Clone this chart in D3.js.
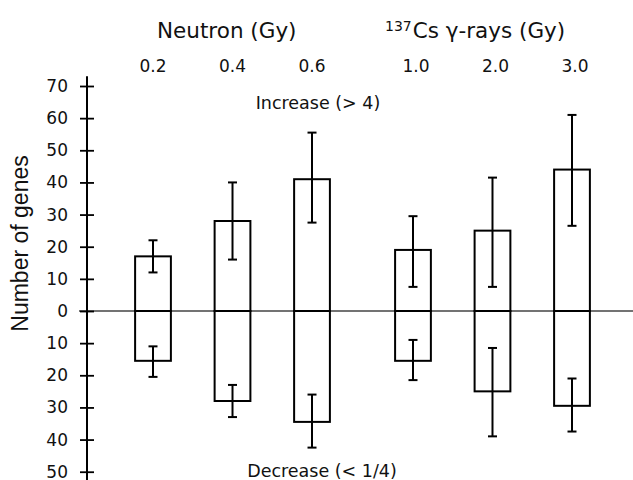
<!DOCTYPE html>
<html>
<head>
<meta charset="utf-8">
<script src="https://cdn.jsdelivr.net/npm/d3@7"></script>
<style>
  html, body { margin: 0; padding: 0; background: #fff; }
  svg { display: block; }
  text { font-family: "DejaVu Sans", sans-serif; fill: #111; }
</style>
</head>
<body>
<svg id="chart" width="633" height="480"></svg>
<script>
// ---- data ----
const doses = ["0.2", "0.4", "0.6", "1.0", "2.0", "3.0"];
const doseGroup = [0, 0, 0, 1, 1, 1];
const groupTitles = ["Neutron (Gy)", "Cs γ-rays (Gy)"];
const increaseMean = [17, 28, 41, 19, 25, 44];
const increaseLow  = [12, 16, 27.5, 7.5, 7.5, 26.5];
const increaseHigh = [22, 40, 55.5, 29.5, 41.5, 61];
const decreaseMean = [15.5, 28, 34.5, 15.5, 25, 29.5];
const decreaseLow  = [11, 23, 26, 9, 11.5, 21];
const decreaseHigh = [20.5, 33, 42.5, 21.5, 39, 37.5];
const yTicks = [70, 60, 50, 40, 30, 20, 10, 0, -10, -20, -30, -40, -50];

// ---- layout ----
const svg = d3.select("#chart");
const groupGap = 0.27;
const slot = doses.map((d, i) => i + doseGroup[i] * groupGap);
const x = d3.scaleLinear().domain([0, d3.max(slot)]).range([153, 572]);
const step = x(1) - x(0);
const barW = step * 0.45;
const y = d3.scaleLinear().domain([0, 70]).range([311, 86]);
const axisX = 87;

// zero line
svg.append("line")
  .attr("x1", 79).attr("x2", 633)
  .attr("y1", y(0)).attr("y2", y(0))
  .attr("stroke", "#444").attr("stroke-width", 1.6);

// y axis
const axis = d3.axisLeft(y).tickValues(yTicks).tickSize(7).tickPadding(12)
  .tickFormat(d => Math.abs(d));
const ag = svg.append("g").attr("transform", `translate(${axisX},0)`).call(axis);
ag.select(".domain").remove();
ag.append("line").attr("x1", 0).attr("x2", 0)
  .attr("y1", y(73)).attr("y2", y(-53))
  .attr("stroke", "#000").attr("stroke-width", 2);
ag.selectAll(".tick line").attr("stroke", "#000").attr("stroke-width", 1.8).attr("x1", 7);
ag.selectAll(".tick text")
  .style("font-family", "'DejaVu Sans', sans-serif")
  .style("font-size", "17px").attr("fill", "#111");

// bars
const idx = d3.range(doses.length);
svg.append("g").selectAll("rect.inc").data(idx).join("rect")
  .attr("x", i => x(slot[i]) - barW / 2)
  .attr("y", i => y(increaseMean[i]))
  .attr("width", barW)
  .attr("height", i => y(0) - y(increaseMean[i]))
  .attr("fill", "none").attr("stroke", "#000").attr("stroke-width", 2);
svg.append("g").selectAll("rect.dec").data(idx).join("rect")
  .attr("x", i => x(slot[i]) - barW / 2)
  .attr("y", y(0))
  .attr("width", barW)
  .attr("height", i => y(-decreaseMean[i]) - y(0))
  .attr("fill", "none").attr("stroke", "#000").attr("stroke-width", 2);

// error bars
function errBars(lo, hi, sign) {
  const g = svg.append("g").attr("stroke", "#000").attr("stroke-width", 2);
  const cap = 4.5;
  idx.forEach(i => {
    const cx = x(slot[i]);
    const y1 = y(sign * lo[i]), y2 = y(sign * hi[i]);
    g.append("line").attr("x1", cx).attr("x2", cx).attr("y1", y1).attr("y2", y2);
    g.append("line").attr("x1", cx - cap).attr("x2", cx + cap).attr("y1", y1).attr("y2", y1);
    g.append("line").attr("x1", cx - cap).attr("x2", cx + cap).attr("y1", y2).attr("y2", y2);
  });
}
errBars(increaseLow, increaseHigh, 1);
errBars(decreaseLow, decreaseHigh, -1);

// dose labels
svg.append("g").selectAll("text").data(idx).join("text")
  .attr("x", i => x(slot[i]) + (doseGroup[i] ? 3 : 0))
  .attr("y", 72)
  .attr("text-anchor", "middle")
  .style("font-size", "17px")
  .text(i => doses[i]);

// group titles
svg.append("text").attr("x", 157).attr("y", 38)
  .style("font-size", "21.5px").text(groupTitles[0]);
const t2 = svg.append("text").attr("x", 385).attr("y", 38).style("font-size", "21.5px");
t2.append("tspan").attr("dy", -7).style("font-size", "14px").text("137");
t2.append("tspan").attr("dy", 7).attr("dx", 1).text(groupTitles[1]);

// annotations
svg.append("text").attr("x", 318).attr("y", 109).attr("text-anchor", "middle")
  .style("font-size", "17.5px").text("Increase (> 4)");
svg.append("text").attr("x", 322).attr("y", 477).attr("text-anchor", "middle")
  .style("font-size", "17.5px").text("Decrease (< 1/4)");

// y label
svg.append("text")
  .attr("transform", `translate(28,${(152 + 335) / 2}) rotate(-90)`)
  .attr("text-anchor", "middle")
  .style("font-family", "'Liberation Sans', Arial, sans-serif")
  .style("font-size", "23px")
  .text("Number of genes");
</script>
</body>
</html>
